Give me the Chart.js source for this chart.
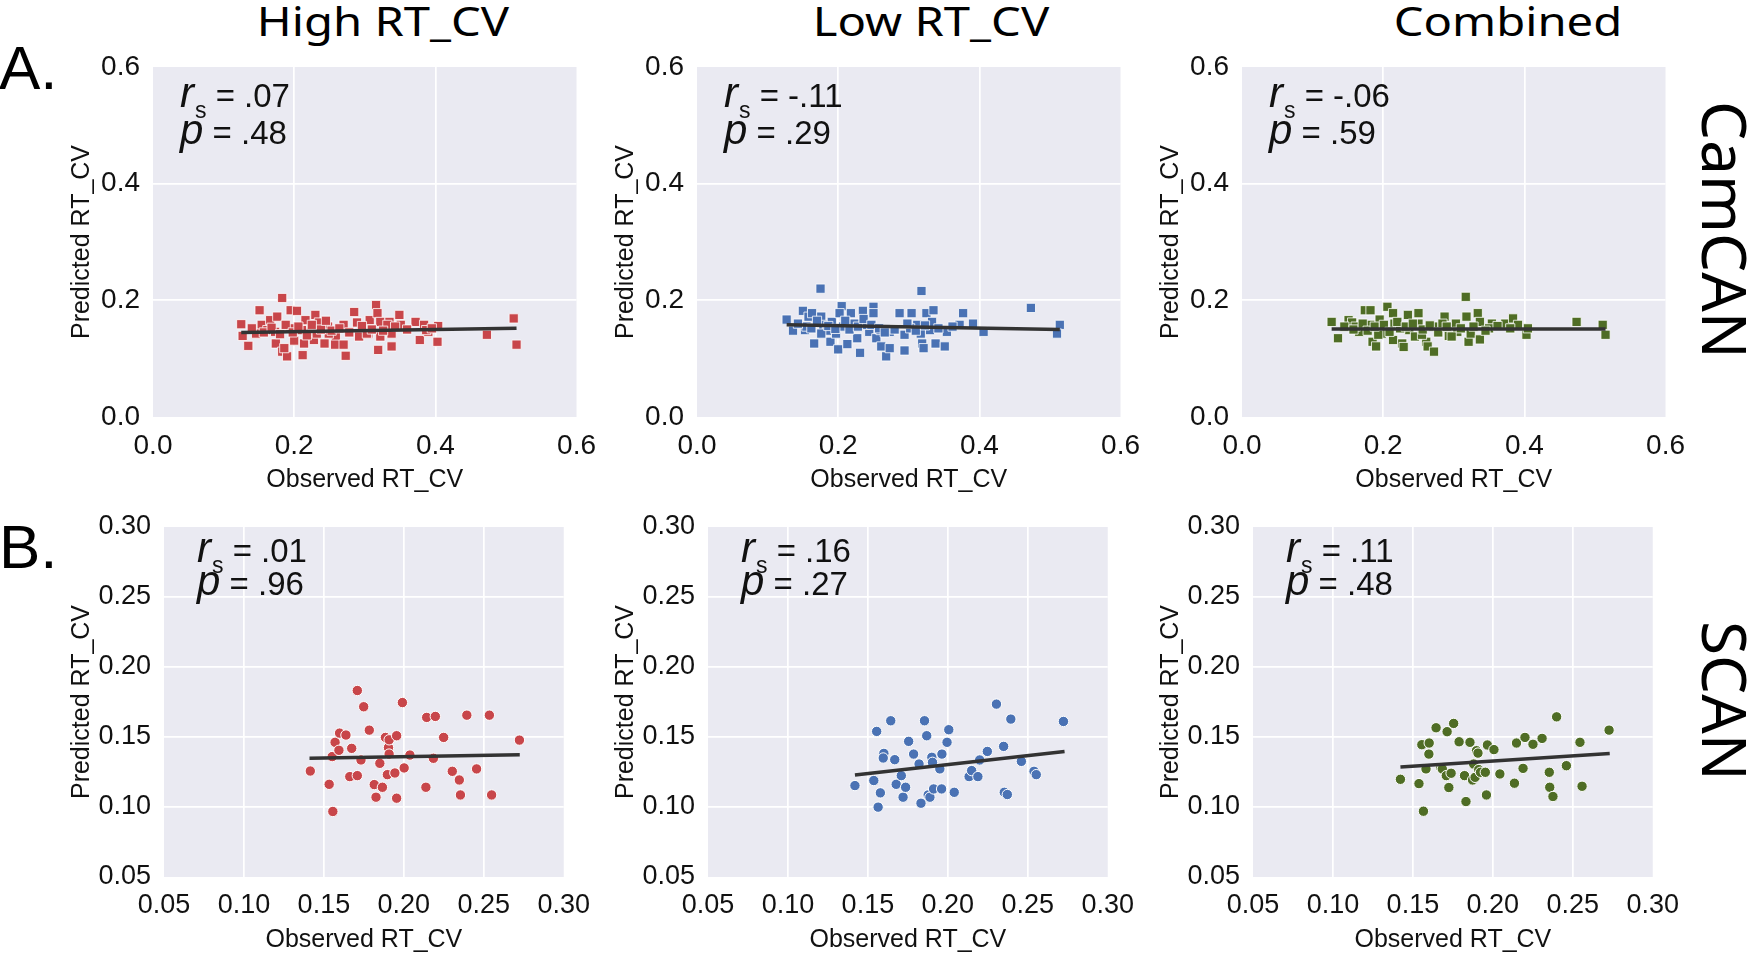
<!DOCTYPE html>
<html>
<head>
<meta charset="utf-8">
<title>Predicted vs observed RT_CV</title>
<script src="https://cdn.jsdelivr.net/npm/chart.js@4.4.0/dist/chart.umd.min.js"></script>
<style>
body { margin:0; background:#fff; width:1752px; height:955px; overflow:hidden; position:relative; font-family:"Liberation Sans", Arial, sans-serif; }
canvas { position:absolute; }
.colTitle { position:absolute; top:1px; font-family:"Noto Sans", sans-serif; font-size:40px; line-height:40px; white-space:nowrap; transform:translateX(-50%) scaleX(1.18); color:#000; }
.panel { position:absolute; left:-1px; font-size:62px; line-height:62px; color:#000; }
.rowTitle { position:absolute; left:1726px; font-family:"Noto Sans", sans-serif; font-size:62px; line-height:62px; white-space:nowrap; transform:translate(-50%,-50%) rotate(90deg); color:#000; }
</style>
</head>
<body>
<div class="colTitle" style="left:383px">High RT_CV</div>
<div class="colTitle" style="left:931px">Low RT_CV</div>
<div class="colTitle" style="left:1508px">Combined</div>
<div class="panel" style="top:37px">A.</div>
<div class="panel" style="top:516px">B.</div>
<div class="rowTitle" style="top:230px">CamCAN</div>
<div class="rowTitle" style="top:701px">SCAN</div>

<canvas id="a1" width="541" height="462" style="left:67px;top:33px"></canvas>
<canvas id="a2" width="541" height="462" style="left:611px;top:33px"></canvas>
<canvas id="a3" width="541" height="462" style="left:1156px;top:33px"></canvas>
<canvas id="b1" width="535" height="462" style="left:67px;top:493px"></canvas>
<canvas id="b2" width="535" height="462" style="left:611px;top:493px"></canvas>
<canvas id="b3" width="535" height="462" style="left:1156px;top:493px"></canvas>

<script>
// observed, predicted pairs
var camcanHigh = [[0.125,0.159],[0.127,0.139],[0.135,0.122],[0.151,0.183],[0.154,0.158],[0.162,0.149],[0.166,0.166],[0.176,0.172],[0.183,0.204],[0.174,0.126],
	[0.183,0.112],[0.19,0.104],[0.195,0.183],[0.204,0.182],[0.2,0.131],[0.212,0.106],[0.214,0.126],[0.216,0.166],[0.23,0.175],[0.228,0.132],
	[0.235,0.162],[0.243,0.126],[0.248,0.155],[0.259,0.137],[0.258,0.124],[0.27,0.158],[0.273,0.105],[0.285,0.18],[0.289,0.162],[0.292,0.138],
	[0.305,0.143],[0.307,0.166],[0.316,0.192],[0.318,0.178],[0.319,0.115],[0.322,0.138],[0.322,0.163],[0.335,0.163],[0.338,0.143],[0.338,0.121],
	[0.349,0.175],[0.351,0.158],[0.372,0.163],[0.378,0.132],[0.384,0.158],[0.39,0.146],[0.404,0.156],[0.403,0.129],[0.473,0.141],[0.511,0.169],
	[0.515,0.124],[0.146,0.143],[0.173,0.146],[0.195,0.152],[0.222,0.146],[0.232,0.143],[0.249,0.143],[0.27,0.124],[0.303,0.143],[0.332,0.158],
	[0.387,0.149],[0.186,0.118],[0.211,0.149],[0.14,0.152],[0.157,0.145],[0.168,0.153],[0.18,0.142],[0.188,0.158],[0.198,0.145],[0.206,0.155],
	[0.218,0.14],[0.225,0.158],[0.238,0.15],[0.245,0.165],[0.253,0.148],[0.264,0.152],[0.278,0.145],[0.296,0.156],[0.31,0.15],[0.326,0.148],
	[0.343,0.155],[0.36,0.15],[0.395,0.152]];
var camcanLow = [[0.175,0.22],[0.318,0.216],[0.473,0.187],[0.127,0.167],[0.136,0.148],[0.15,0.182],[0.153,0.149],[0.158,0.172],[0.163,0.178],[0.166,0.126],
	[0.176,0.172],[0.179,0.158],[0.184,0.148],[0.189,0.129],[0.191,0.163],[0.197,0.143],[0.2,0.116],[0.205,0.19],[0.202,0.178],[0.213,0.125],
	[0.218,0.178],[0.223,0.16],[0.227,0.135],[0.231,0.11],[0.235,0.182],[0.244,0.146],[0.25,0.189],[0.25,0.178],[0.254,0.135],[0.261,0.121],
	[0.268,0.104],[0.273,0.146],[0.273,0.118],[0.287,0.178],[0.294,0.114],[0.294,0.141],[0.304,0.178],[0.312,0.158],[0.319,0.126],[0.321,0.118],
	[0.325,0.178],[0.33,0.149],[0.335,0.183],[0.333,0.163],[0.338,0.126],[0.351,0.121],[0.354,0.146],[0.372,0.158],[0.377,0.178],[0.391,0.16],
	[0.406,0.146],[0.514,0.158],[0.51,0.143],[0.155,0.155],[0.176,0.143],[0.207,0.155],[0.239,0.158],[0.26,0.149],[0.302,0.152],[0.317,0.143],
	[0.143,0.16],[0.162,0.152],[0.17,0.165],[0.186,0.156],[0.196,0.151],[0.21,0.165],[0.216,0.15],[0.228,0.155],[0.236,0.168],[0.247,0.158],
	[0.258,0.152],[0.266,0.145],[0.28,0.15],[0.298,0.16],[0.31,0.148],[0.323,0.157],[0.342,0.152],[0.362,0.155]];
var camcanAll = [[0.127,0.163],[0.136,0.135],[0.151,0.166],[0.156,0.162],[0.166,0.146],[0.174,0.183],[0.182,0.183],[0.182,0.158],[0.185,0.129],[0.19,0.121],
	[0.195,0.167],[0.198,0.143],[0.206,0.189],[0.214,0.178],[0.216,0.16],[0.214,0.132],[0.227,0.126],[0.229,0.12],[0.235,0.175],[0.237,0.149],
	[0.245,0.138],[0.25,0.178],[0.25,0.16],[0.261,0.129],[0.263,0.121],[0.272,0.112],[0.271,0.155],[0.287,0.172],[0.284,0.16],[0.293,0.139],
	[0.303,0.16],[0.305,0.146],[0.317,0.206],[0.318,0.172],[0.321,0.129],[0.324,0.143],[0.334,0.178],[0.337,0.163],[0.337,0.133],[0.354,0.16],
	[0.373,0.16],[0.384,0.169],[0.391,0.158],[0.403,0.141],[0.405,0.152],[0.474,0.163],[0.511,0.158],[0.515,0.141],[0.161,0.155],[0.193,0.141],
	[0.224,0.152],[0.255,0.141],[0.297,0.138],[0.35,0.152],[0.145,0.155],[0.158,0.15],[0.171,0.16],[0.178,0.148],[0.188,0.155],[0.201,0.158],
	[0.209,0.146],[0.22,0.163],[0.232,0.155],[0.242,0.16],[0.256,0.15],[0.266,0.157],[0.278,0.145],[0.29,0.155],[0.31,0.152],[0.328,0.155],
	[0.345,0.148],[0.362,0.156],[0.38,0.152]];
var scanHigh = [[0.1415,0.1257],[0.1533,0.1162],[0.1556,0.0968],[0.1552,0.136],[0.157,0.1462],[0.1594,0.1405],[0.1598,0.1528],[0.1638,0.1514],[0.1662,0.1217],[0.1674,0.1419],
	[0.1709,0.1832],[0.1709,0.1224],[0.1732,0.1336],[0.1749,0.1716],[0.1784,0.1549],[0.1815,0.116],[0.1826,0.107],[0.185,0.1312],[0.1866,0.1141],[0.1885,0.1497],
	[0.1897,0.1231],[0.1904,0.1424],[0.1908,0.148],[0.1908,0.1378],[0.1944,0.1243],[0.1955,0.1063],[0.1955,0.1509],[0.1991,0.1746],[0.2002,0.1279],[0.2038,0.1371],
	[0.2138,0.1141],[0.2143,0.164],[0.2185,0.1348],[0.2197,0.1647],[0.2249,0.1497],[0.2303,0.1255],[0.2347,0.1193],[0.2354,0.1086],[0.2394,0.1656],[0.2455,0.1272],
	[0.2535,0.1656],[0.2549,0.1086],[0.2723,0.1478]];
var scanLow = [[0.1419,0.1153],[0.1537,0.1189],[0.1555,0.154],[0.1564,0.0999],[0.1578,0.1101],[0.16,0.1383],[0.1596,0.135],[0.1643,0.1616],[0.1668,0.1338],[0.1677,0.1162],
	[0.1709,0.1224],[0.172,0.107],[0.1736,0.1141],[0.1755,0.1469],[0.1786,0.1378],[0.182,0.1307],[0.1832,0.1027],[0.1854,0.1616],[0.1868,0.1509],[0.1877,0.1086],
	[0.1888,0.107],[0.19,0.1355],[0.1904,0.1319],[0.1911,0.1129],[0.195,0.1272],[0.1961,0.1129],[0.1963,0.1378],[0.1995,0.1462],[0.2006,0.1552],[0.204,0.1105],
	[0.2133,0.1217],[0.2149,0.126],[0.2188,0.1217],[0.2199,0.1336],[0.2247,0.1397],[0.2304,0.1735],[0.2349,0.1433],[0.2353,0.1105],[0.2372,0.1089],[0.2394,0.1628],
	[0.246,0.1326],[0.2539,0.1255],[0.2553,0.1231],[0.2723,0.1611]];
var scanAll = [[0.1422,0.1198],[0.1538,0.1167],[0.1556,0.1445],[0.1566,0.097],[0.1582,0.1272],[0.1602,0.1457],[0.16,0.1378],[0.1645,0.1566],[0.1675,0.1281],[0.1684,0.1272],
	[0.1709,0.1224],[0.1714,0.1538],[0.1725,0.1139],[0.1739,0.1241],[0.1755,0.1597],[0.1789,0.1466],[0.1823,0.1224],[0.1832,0.1039],[0.1857,0.1462],[0.1873,0.1193],
	[0.188,0.1307],[0.1889,0.1212],[0.1898,0.1402],[0.1907,0.1385],[0.1912,0.1267],[0.1923,0.1248],[0.1953,0.1248],[0.196,0.1086],[0.1966,0.1443],[0.2007,0.141],
	[0.2044,0.1236],[0.2135,0.117],[0.2148,0.1457],[0.2189,0.1276],[0.2201,0.1497],[0.2251,0.1448],[0.2308,0.149],[0.2353,0.1248],[0.2356,0.1141],[0.2376,0.1075],
	[0.2399,0.1644],[0.246,0.1295],[0.2545,0.1462],[0.2558,0.1148],[0.2727,0.1549]];

// regression line end points
var fitCamHigh = [[0.125,0.145],[0.515,0.152]];
var fitCamLow = [[0.127,0.158],[0.514,0.150]];
var fitCamAll = [[0.127,0.151],[0.515,0.151]];
var fitScanHigh = [[0.141,0.1348],[0.2725,0.1374]];
var fitScanLow = [[0.1419,0.1229],[0.273,0.1397]];
var fitScanAll = [[0.1422,0.1286],[0.2731,0.1383]];

var statR = ['.07', '-.11', '-.06', '.01', '.16', '.11'];
var statP = ['.48', '.29', '.59', '.96', '.27', '.48'];

var ticksA = [0.0, 0.2, 0.4, 0.6];
var ticksB = [0.05, 0.10, 0.15, 0.20, 0.25, 0.30];

var red = '#c8464a', blue = '#4a72b4', green = '#4f6d25';
var fam = '"Liberation Sans", Arial, sans-serif';

var plotBg = {
	id: 'plotBg',
	beforeDraw: function(chart) {
		var a = chart.chartArea, ctx = chart.ctx;
		ctx.save();
		ctx.fillStyle = '#eaeaf2';
		ctx.fillRect(a.left, a.top, a.right - a.left, a.bottom - a.top);
		ctx.restore();
	}
};

var statText = {
	id: 'statText',
	afterDraw: function(chart, args, o) {
		var ctx = chart.ctx, a = chart.chartArea;
		var x0 = a.left + o.dx, y1 = a.top + o.dy1, y2 = a.top + o.dy2;
		ctx.save();
		ctx.fillStyle = '#111';
		ctx.textBaseline = 'alphabetic';
		ctx.textAlign = 'left';
		ctx.font = 'italic 42px ' + fam;
		ctx.fillText('r', x0, y1);
		var w = ctx.measureText('r').width + 1;
		ctx.font = '23px ' + fam;
		ctx.fillText('s', x0 + w, y1 + 11);
		w += ctx.measureText('s').width;
		ctx.font = '33px ' + fam;
		ctx.fillText(' = ' + o.r, x0 + w, y1);
		ctx.font = 'italic 42px ' + fam;
		ctx.fillText('p', x0, y2);
		w = ctx.measureText('p').width;
		ctx.font = '33px ' + fam;
		ctx.fillText(' = ' + o.p, x0 + w, y2);
		ctx.restore();
	}
};

function makeScale(title, isY, rowA) {
	var tk = rowA ? ticksA : ticksB;
	var lo = tk[0], hi = tk[tk.length - 1];
	return {
		type: 'linear',
		min: lo,
		max: hi,
		afterBuildTicks: function(s) { s.ticks = tk.map(function(v) { return {value: v}; }); },
		afterFit: function(s) {
			if (isY) { s.width = rowA ? 86 : 97; } else { s.height = 78; }
		},
		ticks: {
			font: {family: fam, size: rowA ? 28 : 27},
			color: '#111',
			padding: isY ? 13 : 12,
			maxRotation: 0,
			autoSkip: false,
			callback: function(v) { return v.toFixed(rowA ? 1 : 2); }
		},
		grid: {
			color: function(c) {
				if (c.tick && (Math.abs(c.tick.value - lo) < 1e-9 || Math.abs(c.tick.value - hi) < 1e-9)) return 'rgba(0,0,0,0)';
				return '#ffffff';
			},
			lineWidth: 1.7,
			drawTicks: false
		},
		border: {display: false},
		title: {display: true, text: title, font: {family: fam, size: 25}, color: '#111', padding: 0}
	};
}

function makePanel(id, pts, fit, color, rowA, k) {
	new Chart(document.getElementById(id), {
		type: 'scatter',
		data: {
			datasets: [{
				type: 'line',
				data: fit.map(function(q) { return {x: q[0], y: q[1]}; }),
				borderColor: '#333333',
				borderWidth: 3.5,
				pointRadius: 0,
				order: 0
			}, {
				type: 'scatter',
				data: pts.map(function(q) { return {x: q[0], y: q[1]}; }),
				pointStyle: rowA ? 'rect' : 'circle',
				pointRadius: rowA ? 6.5 : 5.2,
				backgroundColor: color,
				borderColor: '#ffffff',
				borderWidth: rowA ? 0.8 : 1,
				order: 1
			}]
		},
		options: {
			responsive: false,
			animation: false,
			devicePixelRatio: 1,
			layout: {padding: {top: 34, right: 30, left: 0, bottom: 0}},
			plugins: {
				legend: {display: false},
				tooltip: {enabled: false},
				statText: rowA ? {r: statR[k], p: statP[k], dx: 27, dy1: 40, dy2: 77}
				               : {r: statR[k], p: statP[k], dx: 33, dy1: 35, dy2: 68}
			},
			scales: {
				x: makeScale('Observed RT_CV', false, rowA),
				y: makeScale('Predicted RT_CV', true, rowA)
			}
		},
		plugins: [plotBg, statText]
	});
}

makePanel('a1', camcanHigh, fitCamHigh, red, true, 0);
makePanel('a2', camcanLow, fitCamLow, blue, true, 1);
makePanel('a3', camcanAll, fitCamAll, green, true, 2);
makePanel('b1', scanHigh, fitScanHigh, red, false, 3);
makePanel('b2', scanLow, fitScanLow, blue, false, 4);
makePanel('b3', scanAll, fitScanAll, green, false, 5);
</script>
</body>
</html>
